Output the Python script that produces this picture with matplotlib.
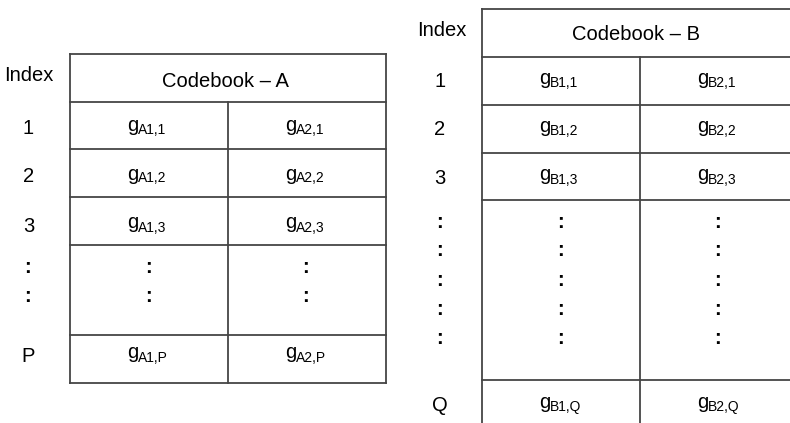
import matplotlib.pyplot as plt

plt.rcParams['font.family'] = ['Liberation Sans', 'DejaVu Sans']

# table contents
index_a = ["1", "2", "3", ":", ":", "P"]
cells_a1 = ["A1,1", "A1,2", "A1,3", ":", ":", "A1,P"]
cells_a2 = ["A2,1", "A2,2", "A2,3", ":", ":", "A2,P"]
index_b = ["1", "2", "3", ":", ":", ":", ":", ":", "Q"]
cells_b1 = ["B1,1", "B1,2", "B1,3", ":", ":", ":", ":", ":", "B1,Q"]
cells_b2 = ["B2,1", "B2,2", "B2,3", ":", ":", ":", ":", ":", "B2,Q"]

# text baselines of each row (pixels from top)
rows_a_y = [134, 182.5, 231.5, 273, 301.5, 361.5]
rows_b_y = [87, 135, 183.5, 228, 256.5, 285.5, 315, 344, 411]

fig = plt.figure(figsize=(7.9, 4.23), dpi=100)
ax = fig.add_axes([0, 0, 1, 1])
ax.set_xlim(0, 790)
ax.set_ylim(423, 0)
ax.axis('off')

lc = '#454545'
lw = 1.3
fs = 14.5


def cell_text(x, y, s):
    if s == ":":
        ax.text(x, y, ":", ha='center', va='baseline', fontsize=fs, fontweight='bold')
    else:
        ax.text(x - 21, y - 3, "g", ha='left', va='baseline', fontsize=fs)
        ax.text(x - 10.5, y, s, ha='left', va='baseline', fontsize=10)


def index_text(x, y, s):
    if s == ":":
        ax.text(x, y, s, ha='center', va='baseline', fontsize=fs, fontweight='bold')
    else:
        ax.text(x, y, s, ha='center', va='baseline', fontsize=fs)


# ---- Codebook A ----
xa0, xam, xa1 = 70, 228, 386
ya_lines = [54, 102, 149, 197, 245, 335, 383]
for y in ya_lines:
    ax.plot([xa0, xa1], [y, y], color=lc, lw=lw)
ax.plot([xa0, xa0], [54, 383], color=lc, lw=lw)
ax.plot([xa1, xa1], [54, 383], color=lc, lw=lw)
ax.plot([xam, xam], [102, 383], color=lc, lw=lw)
ax.text(29, 80.7, "Index", ha='center', va='baseline', fontsize=fs)
ax.text(225, 87.3, "Codebook \u2013 A", ha='center', va='baseline', fontsize=fs)
for y, lab, c1, c2 in zip(rows_a_y, index_a, cells_a1, cells_a2):
    index_text(28 if lab == ":" else 28.5, y, lab)
    cell_text(148.5, y, c1)
    cell_text(306, y, c2)

# ---- Codebook B ----
xb0, xbm, xb1 = 482, 640, 790
yb_lines = [9, 57, 105, 153, 200, 380]
for y in yb_lines:
    ax.plot([xb0, xb1], [y, y], color=lc, lw=lw)
ax.plot([xb0, xb0], [9, 423], color=lc, lw=lw)
ax.plot([xbm, xbm], [57, 423], color=lc, lw=lw)
ax.text(442, 36, "Index", ha='center', va='baseline', fontsize=fs)
ax.text(636, 39.5, "Codebook \u2013 B", ha='center', va='baseline', fontsize=fs)
for y, lab, c1, c2 in zip(rows_b_y, index_b, cells_b1, cells_b2):
    index_text(439 if lab == ":" else 440, y, lab)
    cell_text(560.5, y, c1)
    cell_text(718, y, c2)

fig.savefig("out.png", dpi=100)
